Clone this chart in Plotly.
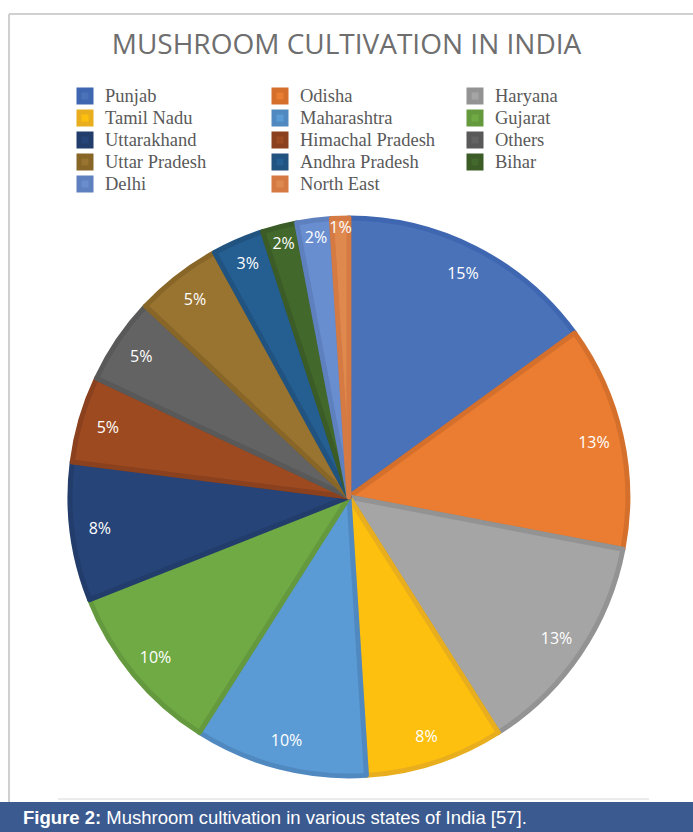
import plotly.graph_objects as go

states = ["Punjab", "Odisha", "Haryana", "Tamil Nadu", "Maharashtra", "Gujarat",
          "Uttarakhand", "Himachal Pradesh", "Others", "Uttar Pradesh",
          "Andhra Pradesh", "Bihar", "Delhi", "North East"]
shares = [15, 13, 13, 8, 10, 10, 8, 5, 5, 5, 3, 2, 2, 1]
fill_colors = ["#4A72B8", "#EA7D31", "#A5A5A5", "#FEC00F", "#5B9BD5", "#6FAA45",
               "#264478", "#9E4A21", "#636363", "#997330", "#255E91", "#43682B",
               "#698ED0", "#E0894F"]
edge_colors = ["#3F66B0", "#D4702C", "#939393", "#E8AE1D", "#5089C0", "#64993E",
               "#223D6B", "#8B411E", "#595959", "#876628", "#215381", "#3B5C26",
               "#5E80BE", "#D47A42"]

legend_labels = ["<span style='font-size:18.5px'>%s</span>" % s for s in states]
pie_domain = dict(x=[0.101, 0.906], y=[0.0673, 0.738])

fig = go.Figure()
# filled slices + legend
fig.add_trace(go.Pie(
    labels=legend_labels, values=shares, sort=False, direction="clockwise", rotation=0,
    marker=dict(colors=fill_colors, line=dict(color=edge_colors, width=5)),
    textinfo="none", hovertext=states, hoverinfo="text+percent",
    domain=pie_domain,
))
# transparent ring carrying the percentage labels near the rim
fig.add_trace(go.Pie(
    labels=legend_labels, values=shares, sort=False, direction="clockwise", rotation=0,
    hole=0.8, showlegend=False, hoverinfo="skip",
    marker=dict(colors=["rgba(0,0,0,0)"] * len(states), line=dict(width=0)),
    texttemplate="%{percent:.0%}", textposition="inside",
    insidetextorientation="horizontal",
    textfont=dict(family="Open Sans", size=16, color="white"),
    domain=pie_domain,
))

fig.update_layout(
    width=693, height=832, margin=dict(l=0, r=0, t=0, b=0),
    paper_bgcolor="white", plot_bgcolor="white",
    uniformtext=dict(minsize=16, mode="show"),
    title=dict(text="MUSHROOM CULTIVATION IN INDIA", x=0.5, xanchor="center",
               y=1 - 44 / 832, yanchor="middle",
               font=dict(family="Open Sans", size=28, color="#6E6E6E")),
    showlegend=True,
    legend=dict(orientation="h", x=65 / 693, xanchor="left", y=1 - 80 / 832, yanchor="top",
                entrywidth=150, entrywidthmode="pixels", traceorder="normal",
                font=dict(family="Liberation Serif", size=14.6, color="#595959"),
                itemwidth=30, tracegroupgap=0, bgcolor="rgba(0,0,0,0)"),
    shapes=[
        dict(type="line", xref="paper", yref="paper", x0=9 / 693, x1=1, y0=1 - 14 / 832, y1=1 - 14 / 832,
             line=dict(color="#D0D0D0", width=2)),
        dict(type="line", xref="paper", yref="paper", x0=9 / 693, x1=9 / 693, y0=1 - 14 / 832, y1=30 / 832,
             line=dict(color="#D0D0D0", width=2)),
        dict(type="line", xref="paper", yref="paper", x0=58 / 693, x1=649 / 693, y0=33 / 832, y1=33 / 832,
             line=dict(color="#D8D8D8", width=1)),
        dict(type="rect", xref="paper", yref="paper", x0=0, x1=1, y0=0, y1=30 / 832,
             fillcolor="#3B5A8F", line=dict(width=0)),
    ],
    annotations=[
        dict(text="<b>Figure 2:</b> Mushroom cultivation in various states of India [57].",
             xref="paper", yref="paper", x=21 / 693, y=15 / 832, xanchor="left", yanchor="middle",
             showarrow=False, font=dict(family="Liberation Sans", size=18.5, color="white")),
    ],
)

fig.write_html("out.html")
